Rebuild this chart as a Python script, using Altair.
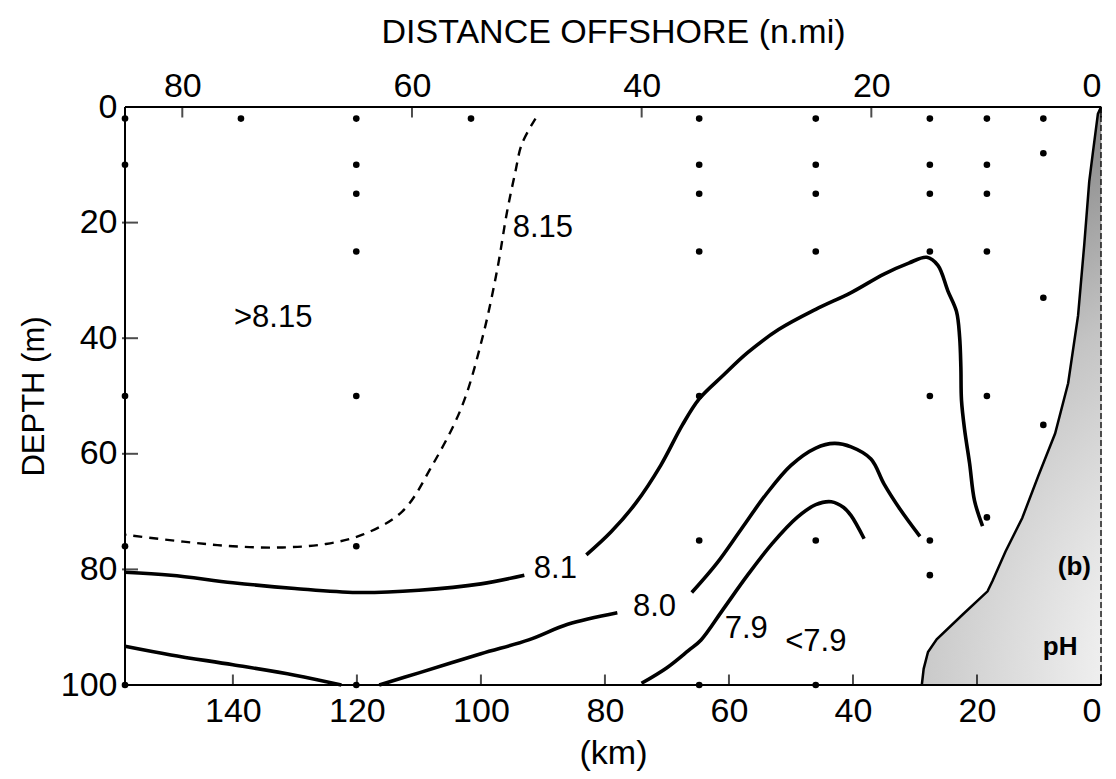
import altair as alt
import pandas as pd

FONT = "Liberation Sans"
KM_MAX = 157.4          # 85 n.mi, left edge of the section
DEPTH_MAX = 100

# ---- axis tick values ----
BOTTOM_TICKS_KM = [140, 120, 100, 80, 60, 40, 20, 0]
TOP_TICKS_NMI = [80, 60, 40, 20, 0]
LEFT_TICKS_M = [0, 20, 40, 60, 80, 100]
NMI_TO_KM = 1.852

# ---- sampling stations (km offshore, depth m) ----
station_km = ([157.4] * 5 + [138.7] + [120.1] * 7 + [101.6] + [64.8] * 7 +
              [46.0] * 6 + [27.6] * 7 + [18.4] * 6 + [9.3] * 4)
station_depth = ([2, 10, 50, 76, 100] + [2] + [2, 10, 15, 25, 50, 76, 100] + [2] +
                 [2, 10, 15, 25, 50, 75, 100] + [2, 10, 15, 25, 75, 100] +
                 [2, 10, 15, 25, 50, 75, 81] + [2, 10, 15, 25, 50, 71] + [2, 8, 33, 55])

# ---- isolines (km, depth) ----
ph815_km = [91.2, 93.4, 94.5, 95.8, 97.4, 99.8, 103.1, 107.9, 112.7, 119.1, 125, 132, 140, 148, 157.4]
ph815_depth = [2, 6.4, 11.5, 18.2, 28.3, 40.1, 51.9, 62.1, 70.0, 74.0, 75.6, 76.2, 76.0, 75.2, 74.0]

ph81a_km = [157.4, 150, 140, 130, 120, 110, 100, 93]
ph81a_depth = [80.5, 81, 82.3, 83.3, 84, 83.6, 82.5, 81]
ph81b_km = [83, 79, 75, 71, 67.5, 64.8, 61, 57, 52, 46, 40.3, 35, 31, 28.1, 26.3, 24.7,
            23.3, 22.8, 22.6, 22.5, 22.0, 21.2, 20.4, 19.1]
ph81b_depth = [77.5, 73.5, 68.5, 62, 55, 50.5, 46.5, 42.5, 38.5, 35, 32.1, 28.9, 27, 26, 27.4, 31.8,
               35.4, 39.8, 45, 50.7, 55.8, 61.6, 68.1, 72.5]

ph80a_km = [157.4, 150, 140, 130, 122.5]
ph80a_depth = [93.3, 94.8, 96.5, 98.3, 100]
ph80b_km = [116.4, 110, 100, 92.3, 86, 78]
ph80b_depth = [100, 97.9, 94.6, 92.2, 89.5, 87.5]
ph80c_km = [66, 62, 58, 54, 50, 46, 43, 40.3, 37.1, 35, 32.4, 29.2]
ph80c_depth = [84, 79, 73, 67, 62, 59, 58.2, 58.8, 60.9, 65.2, 69.6, 74.3]

ph79_km = [74.1, 70, 66.5, 64.5, 61, 57, 53, 49, 46, 43.5, 41.5, 40.3, 38.2]
ph79_depth = [99.7, 97, 94, 92.2, 87, 81, 75.5, 71, 68.8, 68.3, 69.3, 70.7, 74.7]

# sea floor / coast
coast_km = [0, 0.5, 1.3, 1.9, 2.7, 3.7, 5.3, 7.4, 10.1, 12.7, 15.4, 17.5, 18.3, 22.3, 26.5, 27.9, 28.6, 28.9]
coast_depth = [0, 1.2, 7.8, 12.9, 23.8, 36.1, 47.8, 56.5, 63.8, 71.1, 76.9, 82.0, 83.8, 87.8, 92.1, 94.3, 97.2, 100]

# labels
label_text = [">8.15", "8.15", "8.1", "8.0", "7.9", "<7.9"]
label_km = [133.5, 90.0, 88, 72, 57.2, 46]
label_depth = [36.5, 21, 80, 86.5, 90.3, 92.5]
bold_text = ["(b)", "pH"]
bold_km = [4.3, 6.6]
bold_depth = [79.5, 93.5]

# ------------------------------------------------------------------
def seg_frame(pairs):
    rows = []
    for name, (ks, ds) in pairs.items():
        for i, (k, d) in enumerate(zip(ks, ds)):
            rows.append({"seg": name, "ord": i, "km": k, "depth": d})
    return pd.DataFrame(rows)

solid_df = seg_frame({"81a": (ph81a_km, ph81a_depth), "81b": (ph81b_km, ph81b_depth),
                      "80a": (ph80a_km, ph80a_depth), "80b": (ph80b_km, ph80b_depth),
                      "80c": (ph80c_km, ph80c_depth), "79": (ph79_km, ph79_depth)})
dash_df = seg_frame({"815": (ph815_km, ph815_depth)})
coast_df = seg_frame({"coast": (coast_km, coast_depth)})
station_df = pd.DataFrame({"km": station_km, "depth": station_depth})
label_df = pd.DataFrame({"km": label_km, "depth": label_depth, "t": label_text})
bold_df = pd.DataFrame({"km": bold_km, "depth": bold_depth, "t": bold_text})
bottom_tick_df = pd.DataFrame({"km": BOTTOM_TICKS_KM})
top_tick_df = pd.DataFrame({"km": [n * NMI_TO_KM for n in TOP_TICKS_NMI]})
left_tick_df = pd.DataFrame({"depth": LEFT_TICKS_M[1:-1]})
one = pd.DataFrame({"a": [0]})

xs = alt.Scale(domain=[0, KM_MAX], reverse=True, nice=False, zero=False)
ys = alt.Scale(domain=[0, DEPTH_MAX], reverse=True, nice=False, zero=False)
X = alt.X("km:Q", scale=xs, axis=None)
Y = alt.Y("depth:Q", scale=ys, axis=None)


def xd(v):
    return alt.XDatum(v, scale=xs, axis=None)


def yd(v):
    return alt.YDatum(v, scale=ys, axis=None)


# stippled shelf: darker near the sea floor, fading to white toward the lower right
land = alt.Chart(coast_df).mark_area(
    orient="horizontal",
    fill=alt.Gradient(gradient="radial",
                      stops=[alt.GradientStop(color="#ffffff", offset=0),
                             alt.GradientStop(color="#f4f4f4", offset=0.3),
                             alt.GradientStop(color="#c4c4c4", offset=0.7),
                             alt.GradientStop(color="#8e8e8e", offset=1)],
                      x1=1, y1=1, r1=0, x2=1, y2=1, r2=1),
).encode(y=Y, x=X, x2=alt.datum(0))

coast = alt.Chart(coast_df).mark_line(color="black", strokeWidth=2.5).encode(
    x=X, y=Y, order="ord:Q")

solid = alt.Chart(solid_df).mark_line(color="black", strokeWidth=3.6,
                                      interpolate="catmull-rom").encode(
    x=X, y=Y, detail="seg:N", order="ord:Q")

dashed = alt.Chart(dash_df).mark_line(color="black", strokeWidth=2.4, strokeDash=[9, 7],
                                      interpolate="catmull-rom").encode(
    x=X, y=Y, order="ord:Q")

dots = alt.Chart(station_df).mark_circle(color="black", size=44, opacity=1).encode(
    x=alt.X("km:Q", scale=xs,
            axis=alt.Axis(orient="bottom", values=BOTTOM_TICKS_KM, ticks=False, tickSize=0,
                          domain=False, grid=False, labelFontSize=34, labelPadding=9,
                          labelFont=FONT, labelColor="black", title="(km)",
                          titleFont=FONT, titleFontSize=34, titleFontWeight="normal",
                          titleColor="black", titlePadding=8)),
    y=alt.Y("depth:Q", scale=ys,
            axis=alt.Axis(orient="left", values=LEFT_TICKS_M, ticks=False, tickSize=0,
                          domain=False, grid=False, labelFontSize=34, labelPadding=8,
                          labelFont=FONT, labelColor="black", title="DEPTH (m)",
                          titleFont=FONT, titleFontSize=31, titleFontWeight="normal",
                          titleColor="black", titlePadding=10)))

labels = alt.Chart(label_df).mark_text(font=FONT, fontSize=31, color="black").encode(
    x=alt.X("km:Q", scale=xs,
            axis=alt.Axis(orient="top", values=[n * NMI_TO_KM for n in TOP_TICKS_NMI],
                          labelExpr="round(datum.value / 1.852)", ticks=False, tickSize=0,
                          domain=False, grid=False, labelFontSize=34, labelPadding=4,
                          labelFont=FONT, labelColor="black",
                          title="DISTANCE OFFSHORE (n.mi)", titleFont=FONT, titleFontSize=34,
                          titleFontWeight="normal", titleColor="black", titlePadding=20)),
    y=Y, text="t:N")

bold = alt.Chart(bold_df).mark_text(font=FONT, fontSize=26, fontWeight="bold",
                                    color="black").encode(x=X, y=Y, text="t:N")

bticks = alt.Chart(bottom_tick_df).mark_tick(orient="vertical", size=11, thickness=2,
                                             yOffset=-5, color="black").encode(
    x=X, y=yd(DEPTH_MAX))
tticks = alt.Chart(top_tick_df).mark_tick(orient="vertical", size=11, thickness=2,
                                          yOffset=5, color="black").encode(
    x=X, y=yd(0))
lticks = alt.Chart(left_tick_df).mark_tick(orient="horizontal", size=16, thickness=2,
                                           xOffset=5, color="black").encode(
    x=xd(KM_MAX), y=Y)

frame_solid = alt.Chart(pd.DataFrame({
    "km": [KM_MAX, KM_MAX, KM_MAX], "km2": [0, 0, KM_MAX],
    "depth": [0, DEPTH_MAX, 0], "depth2": [0, DEPTH_MAX, DEPTH_MAX]})).mark_rule(
    color="black", strokeWidth=2).encode(x=X, x2="km2:Q", y=Y, y2="depth2:Q")
frame_right = alt.Chart(one).mark_rule(color="black", strokeWidth=1.3,
                                       strokeDash=[6, 3]).encode(
    x=xd(0), y=yd(0), y2=alt.datum(DEPTH_MAX))

chart = alt.layer(
    land, coast, frame_solid, frame_right, bticks, tticks, lticks,
    dashed, solid, dots, labels, bold
).resolve_axis(x="independent", y="independent").properties(
    width=976, height=578,
    autosize=alt.AutoSizeParams(type="none"),
    padding={"left": 125, "top": 107, "right": 15, "bottom": 94},
).configure_view(stroke=None).configure(background="white")

chart.save("out.html", embed_options={"renderer": "svg", "actions": False})
